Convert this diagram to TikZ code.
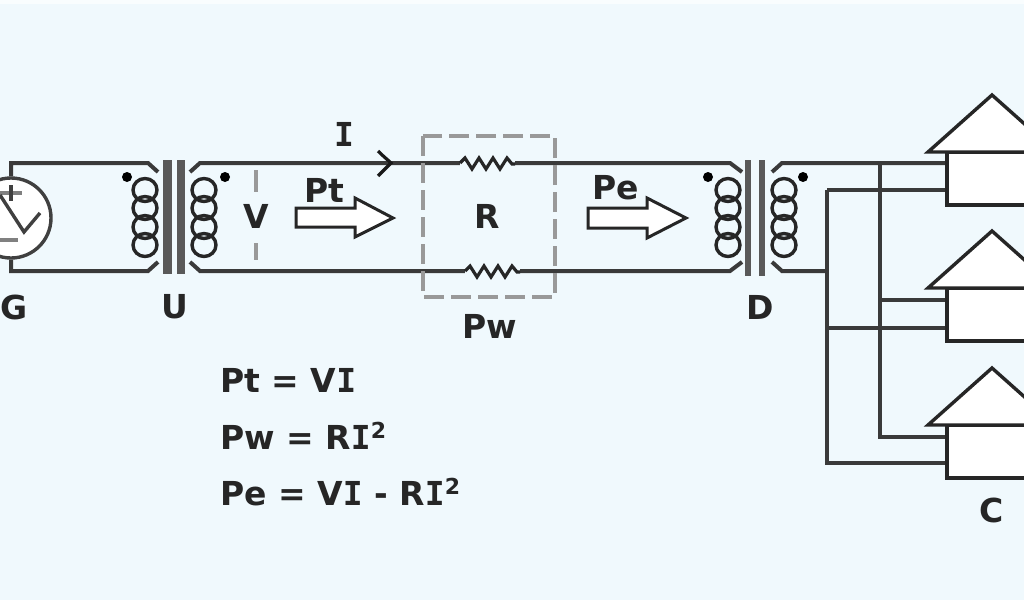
\documentclass[tikz,border=0pt]{standalone}
\usepackage{fontspec}
\setmainfont{DejaVu Sans}
\newfontfamily\slabfont{DejaVu Sans Mono}
\usepackage{xcolor}
\usetikzlibrary{calc}
\definecolor{bgblue}{HTML}{F0F9FD}
\definecolor{wirec}{HTML}{3A3A3A}
\tikzset{
  wire/.style={draw=wirec, line width=4pt, line join=miter},
  coil/.style={draw=black!85, line width=3.4pt},
  corebar/.style={fill=black!65, draw=none},
  lbl/.style={font=\fontsize{33}{38}\bfseries\selectfont, text=black!85, inner sep=0pt},
  eqn/.style={lbl, anchor=west},
  symb/.style={black!75, line width=3.4pt},
  blockarr/.style={draw=black!85, line width=3pt, fill=white, line join=miter},
  dashbox/.style={draw=black!40, line width=4pt, dash pattern=on 20pt off 7pt},
  house/.style={draw=black!85, line width=3.4pt, fill=white, line join=miter},
  dotmark/.style={circle, fill=black, inner sep=0pt, minimum size=10pt},
}
\newcommand{\xfmr}[2]{% centres of the two coils
  \foreach \cy in {190,208,227,245} {
    \draw[coil] (#1,\cy) ellipse (12pt and 11.5pt);
    \draw[coil] (#2,\cy) ellipse (12pt and 11.5pt);
  }
}
\newcommand{\sqr}{\raisebox{.62ex}{\fontsize{22}{24}\bfseries\selectfont 2}}
\newcommand{\slabI}{{\slabfont\bfseries I}}
\begin{document}
\begin{tikzpicture}[x=1pt, y=-1pt]
\useasboundingbox (0,0) rectangle (1024,600);
\clip (0,0) rectangle (1024,600);
\fill[bgblue] (0,0) rectangle (1024,600);
\fill[bgblue!40!white] (0,0) rectangle (1024,4);

% line ends
\coordinate (gt) at (11,163); \coordinate (gb) at (11,271);
\coordinate (ult) at (158,172); \coordinate (ulb) at (158,262);
\coordinate (urt) at (190,172); \coordinate (urb) at (190,262);
\coordinate (dlt) at (742,172); \coordinate (dlb) at (742,262);
\coordinate (drt) at (772,172); \coordinate (drb) at (772,262);
\coordinate (ja) at (880,163); \coordinate (jb) at (827,190);
\coordinate (jc) at (880,300); \coordinate (jd) at (827,328);
\coordinate (je) at (880,437); \coordinate (jf) at (827,463);
\coordinate (jg) at (827,271);

% generator
\node[draw=black!75, line width=3.4pt, fill=white, circle, minimum size=80pt, inner sep=0pt] (gen) at (11,218) {};
\draw[wire] (gen.north) -- (gt) -- (148,163) -- (ult);
\draw[wire] (gen.south) -- (gb) -- (148,271) -- (ulb);
\draw[symb, black!50] (0,193) -- (22,193);
\draw[symb] (11,185) -- (11,201);
\draw[symb, black!50] (0,240) -- (18,240);
\draw[symb] (0,195) -- (24,232) -- (40,213);

% wires over the line
\draw[wire] (urt) -- (200,163) -- (730,163) -- (dlt);
\draw[wire] (urb) -- (200,271) -- (730,271) -- (dlb);
\draw[wire] (drt) -- (782,163) -- (947,163);
\draw[wire] (drb) -- (782,271) -- (jg);
\draw[wire] (ja) -- (je) -- (947,437);
\draw[wire] (jb) -- (jf) -- (947,463);
\draw[wire] (jb) -- (947,190);
\draw[wire] (jc) -- (947,300);
\draw[wire] (jd) -- (947,328);

% transformers
\xfmr{145}{204}
\xfmr{728}{784}
\fill[corebar] (163,160) rectangle (172,274);
\fill[corebar] (177,160) rectangle (185,274);
\fill[corebar] (745,160) rectangle (751,276);
\fill[corebar] (759,160) rectangle (765,276);
\node[dotmark] (ua) at (127,177) {};
\node[dotmark] (ub) at (225,177) {};
\node[dotmark] (da) at (708,177) {};
\node[dotmark] (db) at (803,177) {};

% line resistance
\foreach \rx/\ry in {460/163,465/271} {
  \fill[bgblue] (\rx,\ry-3) rectangle (\rx+55,\ry+3);
  \draw[black!85, line width=3.2pt] (\rx,\ry) -- ++(5,-5) -- ++(7,11) -- ++(7,-11) -- ++(7,11) -- ++(7,-11) -- ++(7,11) -- ++(7,-11) -- ++(5,6) -- ++(3,0);
}
\draw[dashbox] (423,136) rectangle (555,297);

% current mark
\draw[black!90, line width=3.2pt, line join=miter] (378,151) .. controls (384,157) and (388,160) .. (391,163) .. controls (388,166) and (384,170) .. (378,176);

% power arrows
\draw[blockarr] (296,208) -- (355,208) -- (355,198) -- (393,218) -- (355,237) -- (355,227) -- (296,227) -- cycle;
\draw[blockarr] (588,208) -- (647,208) -- (647,198) -- (686,218) -- (647,238) -- (647,228) -- (588,228) -- cycle;

% consumers
\foreach \hy in {152,288,425} {
  \draw[house] (947,\hy) rectangle (1040,\hy+53);
  \draw[house] (928,\hy) -- (992,\hy-57) -- (1056,\hy) -- cycle;
}

% labels
\node[lbl, fill=bgblue] (V) at (256,216) {V};
\draw[black!40, line width=4pt] (256,170) -- (256,192);
\draw[black!40, line width=4pt] (256,243) -- (256,260);
\node[lbl] (G) at (14,307) {G};
\node[lbl] (U) at (175,307) {U};
\node[lbl] (D) at (760,307) {D};
\node[lbl] (C) at (992,510) {C};
\node[lbl] (I) at (344,134) {\slabI};
\node[lbl] (Pt) at (324,190) {Pt};
\node[lbl] (Pe) at (616,188) {Pe};
\node[lbl] (R) at (487,216) {R};
\node[lbl] (Pw) at (490,326) {Pw};
\node[eqn] (eqa) at (220,380) {Pt = V\slabI};
\node[eqn] (eqb) at (220,436) {Pw = R\slabI\sqr};
\node[eqn] (eqc) at (220,492) {Pe = V\slabI{} - R\slabI\sqr};
\end{tikzpicture}
\end{document}
